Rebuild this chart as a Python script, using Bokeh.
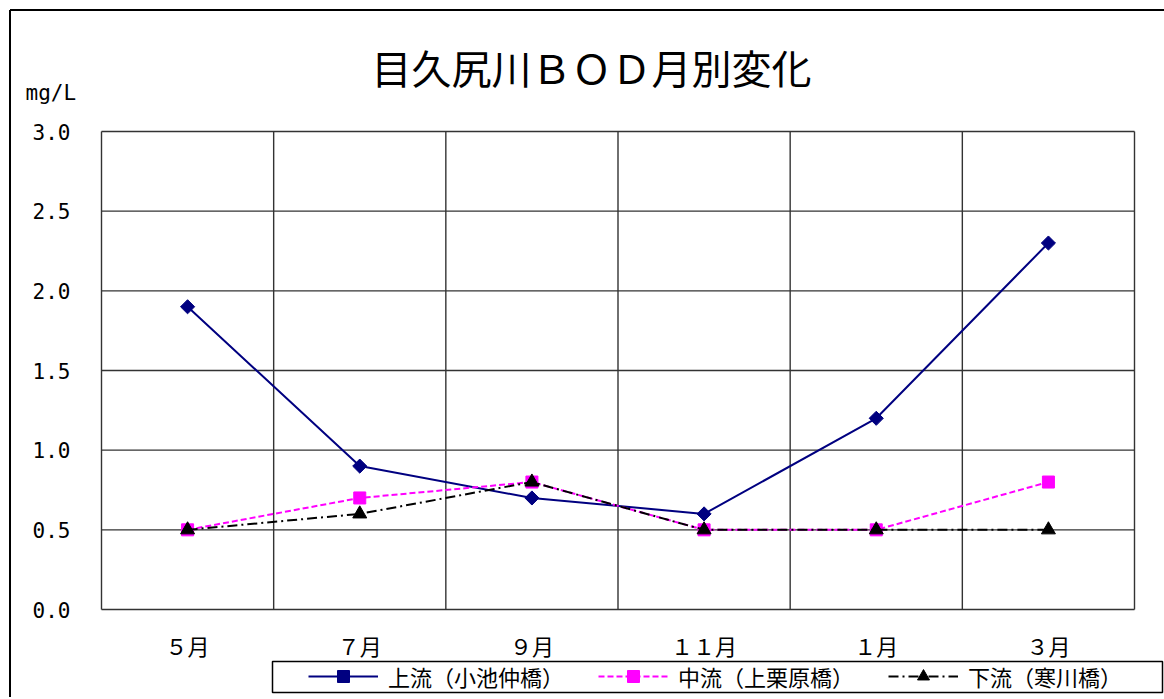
from bokeh.plotting import figure
from bokeh.models import (Range1d, FixedTicker, Legend, LegendItem, Label,
                          PrintfTickFormatter, BoxAnnotation)
from bokeh.embed import file_html
from bokeh.resources import INLINE

# ---- data ----
months = ["５月", "７月", "９月", "１１月", "１月", "３月"]
upper = [1.9, 0.9, 0.7, 0.6, 1.2, 2.3]
middle = [0.5, 0.7, 0.8, 0.5, 0.5, 0.8]
lower = [0.5, 0.6, 0.8, 0.5, 0.5, 0.5]
series_names = ["上流（小池仲橋）", "中流（上栗原橋）", "下流（寒川橋）"]
y_ticks = [0.0, 0.5, 1.0, 1.5, 2.0, 2.5, 3.0]
title_text = "目久尻川ＢＯＤ月別変化"
unit_text = "mg/L"

CJK = "Noto Sans CJK JP"
MONO = "DejaVu Sans Mono"

# ---- layout (pixels on the canvas) ----
W, H = 1164, 697
PL, PR, PT, PB = 101, 1134, 131, 609      # plot area edges
n = len(months)
xs = list(range(n))
ymax = max(y_ticks)
kx = (PR - PL) / n
ky = (PB - PT) / ymax
x_range = Range1d(-0.5 - PL / kx, n - 0.5 + (W - PR) / kx)
y_range = Range1d(-(H - PB) / ky, ymax + PT / ky)

p = figure(width=W, height=H, x_range=x_range, y_range=y_range,
           output_backend="svg", toolbar_location=None, min_border=0)
p.extra_x_ranges = {"px": Range1d(0, W)}
p.extra_y_ranges = {"px": Range1d(H, 0)}
p.background_fill_color = "white"
p.border_fill_color = "white"
p.outline_line_color = None
p.grid.visible = False

# axes fixed at the plot-area edges
xa, ya = p.xaxis[0], p.yaxis[0]
xa.fixed_location = 0
ya.fixed_location = -0.5
xa.ticker = FixedTicker(ticks=xs)
xa.major_label_overrides = {i: m for i, m in enumerate(months)}
ya.ticker = FixedTicker(ticks=y_ticks)
ya.formatter = PrintfTickFormatter(format="%.1f")
for ax in (xa, ya):
    ax.axis_line_color = None
    ax.major_tick_in = 0
    ax.major_tick_out = 0
    ax.minor_tick_in = 0
    ax.minor_tick_out = 0
    ax.major_label_text_color = "black"
ya.major_label_standoff = 31
ya.major_label_text_font = MONO
ya.major_label_text_font_size = "21px"
xa.major_label_standoff = 19
xa.major_label_text_font = CJK
xa.major_label_text_font_size = "22px"

# grid lines limited to the plot area (from the ticks and category bounds)
bounds = [i - 0.5 for i in range(n + 1)]
p.segment(x0=[-0.5] * len(y_ticks), y0=y_ticks, x1=[n - 0.5] * len(y_ticks), y1=y_ticks,
          line_color="#333333", line_width=1.4)
p.segment(x0=bounds, y0=[0] * len(bounds), x1=bounds, y1=[ymax] * len(bounds),
          line_color="#333333", line_width=1.4)

# series
l1 = p.line(xs, upper, line_color="#000080", line_width=2)
m1 = p.scatter(xs, upper, marker="square", angle=0.785398, size=10,
               fill_color="#000080", line_color="#000080")
l2 = p.line(xs, middle, line_color="#FF00FF", line_width=2, line_dash="6 3")
m2 = p.scatter(xs, middle, marker="square", size=12,
               fill_color="#FF00FF", line_color="#FF00FF")
l3 = p.line(xs, lower, line_color="black", line_width=2, line_dash="10 4 2 4")
m3 = p.scatter(xs, lower, marker="triangle", size=14,
               fill_color="black", line_color="black")

# outer chart frame (top / left edges visible)
p.segment(x0=[9.5, 9.5], y0=[9.5, 9.5], x1=[W, 9.5], y1=[9.5, H],
          x_range_name="px", y_range_name="px", line_color="black", line_width=2)

# legend frame + legend
p.add_layout(BoxAnnotation(left=272, right=1162, top=661, bottom=692,
                           x_range_name="px", y_range_name="px",
                           fill_color="white", fill_alpha=1,
                           line_color="black", line_alpha=1, line_width=1.5))
legend = Legend(items=[LegendItem(label=series_names[0], renderers=[l1, m1]),
                       LegendItem(label=series_names[1], renderers=[l2, m2]),
                       LegendItem(label=series_names[2], renderers=[l3, m3])],
                orientation="horizontal", location=(308, 5.5),
                glyph_width=70, glyph_height=30, label_height=20,
                label_standoff=10, spacing=34, padding=0, margin=0,
                border_line_color=None, background_fill_alpha=0,
                label_text_font=CJK, label_text_font_size="22px",
                label_text_color="black")
p.add_layout(legend, "center")

# title and unit
p.add_layout(Label(x=591, y=66, x_range_name="px", y_range_name="px",
                   text=title_text, text_align="center", text_baseline="middle",
                   text_font=CJK, text_font_size="40px", text_color="black"))
p.add_layout(Label(x=25, y=92, x_range_name="px", y_range_name="px",
                   text=unit_text, text_align="left", text_baseline="alphabetic",
                   text_font=MONO, text_font_size="21px", text_color="black"))

open("out.html", "w").write(file_html(p, INLINE))
